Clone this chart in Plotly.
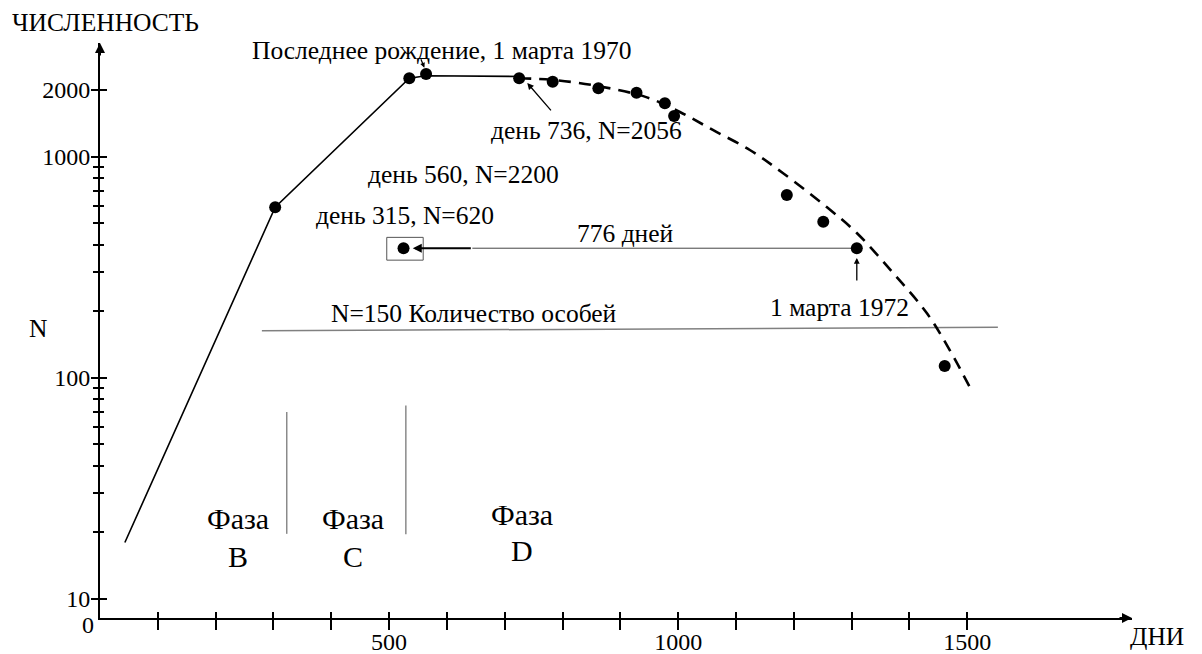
import numpy as np
import plotly.graph_objects as go

# ---------------- data ----------------
# solid growth line (day, N)
solid_day = [43, 303, 535, 564, 725]
solid_n = [18, 590, 2257, 2319, 2300]

# dashed decline curve
dash_day = [725, 784, 865, 946, 1003, 1060, 1124, 1181, 1257, 1309, 1372, 1430, 1470, 1510]
dash_n = [2257, 2218, 2074, 1850, 1589, 1318, 1070, 842, 591, 451, 297, 196, 133, 85]

# observed points
pt_day = [303, 535, 564, 725, 783, 862, 928, 977, 993, 1188, 1251, 1309, 1461, 525]
pt_n = [590, 2257, 2360, 2257, 2178, 2034, 1943, 1740, 1524, 670, 507, 385, 113, 385]

# reference line N=150 (drawn slightly above in picture)
thr_day = [280, 1553]
thr_n = [163, 169]

# phase boundaries
phase_day = [323, 529]
phase_lo = [19.7, 19.6]
phase_hi = [70, 75]

# 776-day interval (from boxed point to 1 March 1972)
span_day = [644, 1299]
span_n = [385, 385]
box_day = [496, 559]
box_n = [340, 431]

x_ticks = list(range(100, 1600, 100))
x_labels = {500: "500", 1000: "1000", 1500: "1500"}
y_ticks = [10, 100, 1000, 2000]
y_minor = [20, 30, 40, 50, 60, 70, 80, 90, 200, 300, 400, 500, 600, 700, 800, 900]

FONT = "Liberation Serif, Times New Roman, DejaVu Serif, serif"
XR = [0, 1785]
YR = [0.914, 3.513]

W, H = 1202, 654
L, R, T, B = 100, 70, 43, 36
PW, PH = W - L - R, H - T - B


def paper(xp, yp):
    return (xp - L) / PW, (H - B - yp) / PH


fig = go.Figure()

# phase boundaries
for d, lo, hi in zip(phase_day, phase_lo, phase_hi):
    fig.add_trace(go.Scatter(x=[d, d], y=[lo, hi], mode="lines",
                             line=dict(color="#8a8a8a", width=1.5), hoverinfo="skip"))
# N=150 line
fig.add_trace(go.Scatter(x=thr_day, y=thr_n, mode="lines",
                         line=dict(color="#808080", width=1.5), hoverinfo="skip"))
# 776-day line
fig.add_trace(go.Scatter(x=[span_day[0], span_day[1]], y=span_n, mode="lines",
                         line=dict(color="#444444", width=1), hoverinfo="skip"))
# box around point
fig.add_trace(go.Scatter(x=[box_day[0], box_day[1], box_day[1], box_day[0], box_day[0]],
                         y=[box_n[0], box_n[0], box_n[1], box_n[1], box_n[0]], mode="lines",
                         line=dict(color="#555555", width=1), hoverinfo="skip"))
# solid line
fig.add_trace(go.Scatter(x=solid_day, y=solid_n, mode="lines",
                         line=dict(color="black", width=1.6)))
# dashed curve
fig.add_trace(go.Scatter(x=dash_day, y=dash_n, mode="lines",
                         line=dict(color="black", width=2.6, dash="12px,8px", shape="spline")))
# points
fig.add_trace(go.Scatter(x=pt_day, y=pt_n, mode="markers",
                         marker=dict(color="black", size=12)))
# dummy trace for overlay axes (crossing ticks)
fig.add_trace(go.Scatter(x=[None], y=[None], xaxis="x2", yaxis="y2", mode="lines"))

ann = []
TS = 25.5


def text(xp, yp, s, size=TS, xanchor="center"):
    xx, yy = paper(xp, yp)
    ann.append(dict(x=xx, y=yy, xref="paper", yref="paper", text=s, showarrow=False,
                    xanchor=xanchor, yanchor="middle",
                    font=dict(family=FONT, size=size, color="black")))


text(105, 23, "ЧИСЛЕННОСТЬ")
text(38, 328, "N")
text(1157, 636, "ДНИ")
text(88, 625, "0", 24)
text(442, 50, "Последнее рождение, 1 марта 1970")
text(586, 130, "день 736, N=2056")
text(463, 175, "день 560, N=2200")
text(405, 216, "день 315, N=620")
text(625, 233, "776 дней")
text(839, 307, "1 марта 1972")
text(474, 313, "N=150 Количество особей")
text(238, 518, "Фаза", 30)
text(238, 556, "B", 30)
text(353, 518, "Фаза", 30)
text(353, 556, "C", 30)
text(522, 514, "Фаза", 30)
text(522, 550, "D", 30)

# axis arrowheads
ann.append(dict(x=1, y=0, xref="paper", yref="paper", ax=-14, ay=0, text="",
                showarrow=True, arrowhead=2, arrowsize=1, arrowwidth=2, arrowcolor="black"))
ann.append(dict(x=0, y=1, xref="paper", yref="paper", ax=0, ay=14, text="",
                showarrow=True, arrowhead=2, arrowsize=1, arrowwidth=2, arrowcolor="black"))

# arrow to day 736 point
ann.append(dict(x=739, y=np.log10(2150), xref="x", yref="y", ax=25, ay=29, text="",
                showarrow=True, arrowhead=2, arrowsize=1, arrowwidth=1.3, arrowcolor="black"))
# small arrow to last-birth point
ann.append(dict(x=561, y=np.log10(2520), xref="x", yref="y", ax=-4, ay=-10, text="",
                showarrow=True, arrowhead=2, arrowsize=0.8, arrowwidth=1.2, arrowcolor="black"))
# 776 days arrow head (thick part)
ann.append(dict(x=541, y=np.log10(385), xref="x", yref="y", ax=644, ay=np.log10(385),
                axref="x", ayref="y", text="", showarrow=True, arrowhead=2, arrowsize=0.9,
                arrowwidth=2, arrowcolor="black"))
# up arrow under 1 March 1972 point
ann.append(dict(x=1309, y=np.log10(348), xref="x", yref="y", ax=0, ay=24, text="",
                showarrow=True, arrowhead=2, arrowsize=0.9, arrowwidth=1.3, arrowcolor="black"))

fig.update_layout(
    width=W, height=H,
    margin=dict(l=L, r=R, t=T, b=B, autoexpand=False),
    paper_bgcolor="white", plot_bgcolor="white",
    showlegend=False,
    annotations=ann,
    xaxis=dict(range=XR, showgrid=False, zeroline=False, showline=True, automargin=False,
               linecolor="black", linewidth=2, ticks="outside", ticklen=10,
               tickwidth=1.5, tickcolor="black", tickmode="array", tickvals=x_ticks,
               ticktext=[x_labels.get(v, "") for v in x_ticks], ticklabelstandoff=-9,
               tickfont=dict(family=FONT, size=24, color="black")),
    yaxis=dict(type="log", range=YR, showgrid=False, zeroline=False, showline=True,
               automargin=False,
               linecolor="black", linewidth=2, ticks="outside", ticklen=7,
               tickwidth=1.5, tickcolor="black", tickmode="array", tickvals=y_ticks,
               ticktext=[str(v) for v in y_ticks], ticklabelstandoff=-4,
               tickfont=dict(family=FONT, size=24, color="black"),
               minor=dict(tickmode="array", tickvals=y_minor, ticks="outside",
                          ticklen=5, tickwidth=1.5, tickcolor="black")),
    xaxis2=dict(range=XR, overlaying="x", anchor="y2", showgrid=False, zeroline=False,
                automargin=False,
                showline=False, ticks="inside", ticklen=6, tickwidth=1.5,
                tickcolor="black", tickmode="array", tickvals=x_ticks,
                showticklabels=False),
    yaxis2=dict(type="log", range=YR, overlaying="y", anchor="x2", showgrid=False,
                automargin=False,
                zeroline=False, showline=False, ticks="inside", ticklen=7,
                tickwidth=1.5, tickcolor="black", tickmode="array", tickvals=y_ticks,
                showticklabels=False,
                minor=dict(tickmode="array", tickvals=y_minor, ticks="inside",
                           ticklen=4, tickwidth=1.5, tickcolor="black")),
)

fig.write_html("out.html", config={"displayModeBar": False},
               post_script="document.body.style.margin='0';document.body.style.overflow='hidden';")
